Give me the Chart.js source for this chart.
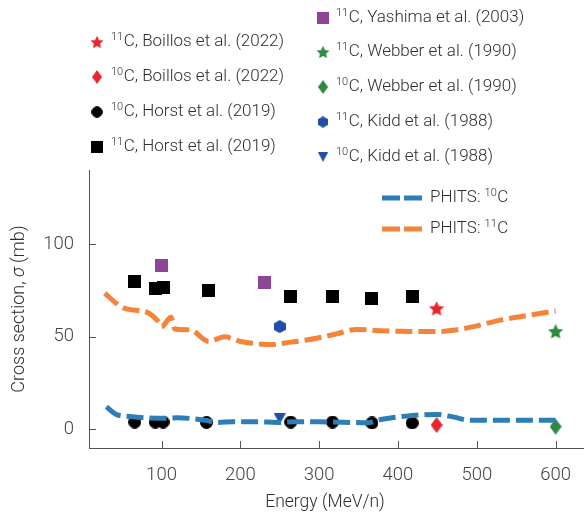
<!DOCTYPE html>
<html>
<head>
<meta charset="utf-8">
<script src="https://cdn.jsdelivr.net/npm/chart.js@4"></script>
<style>
  html, body { margin: 0; padding: 0; background: #ffffff; }
  #c { display: block; }
</style>
</head>
<body>
<canvas id="c" width="584" height="518"></canvas>
<script>
// ---- axis ticks ----
const xTicks = [100, 200, 300, 400, 500, 600];
const yTicks = [0, 50, 100];

// ---- measured cross sections (energy in MeV/n, sigma in mb) ----
const horst11C_E     = [66, 92, 102, 159, 264, 317, 367, 418];
const horst11C_sigma = [80, 76, 76.5, 75, 72, 71.7, 70.8, 72];
const horst10C_E     = [66, 92, 102, 157, 264, 317, 367, 418];
const horst10C_sigma = [4, 4, 4, 3.8, 4, 4, 3.5, 3.5];
const yashima11C_E     = [100, 231];
const yashima11C_sigma = [88.3, 79.5];
const kidd11C_E     = [250];
const kidd11C_sigma = [55.5];
const kidd10C_E     = [250];
const kidd10C_sigma = [5.8];
const boillos11C_E     = [449];
const boillos11C_sigma = [65.4];
const boillos10C_E     = [449];
const boillos10C_sigma = [2.4];
const webber11C_E     = [600];
const webber11C_sigma = [53];
const webber10C_E     = [600];
const webber10C_sigma = [1.5];

// ---- PHITS calculations ----
const phits11C_E     = [28, 43, 53, 72, 80, 96, 100, 112, 117, 136, 160, 180, 200, 220, 240, 262, 280, 300, 320, 348, 377, 400, 420, 449, 470, 496, 530, 572, 600];
const phits11C_sigma = [73.5, 68, 65.4, 64.1, 63.6, 58.2, 55.5, 60.5, 54.2, 53.8, 47.5, 50, 47.5, 46.3, 45.8, 47, 48, 49.5, 51.4, 54, 53.3, 53, 52.8, 52.8, 53.5, 55.5, 59, 62, 64];
const phits10C_E     = [30, 43, 60, 80, 100, 120, 140, 160, 172, 190, 220, 250, 270, 300, 330, 360, 380, 410, 449, 470, 490, 520, 560, 600];
const phits10C_sigma = [12.2, 8, 7, 6.3, 6, 6.3, 5.8, 4.6, 3.8, 4.2, 4.2, 3.8, 4.2, 4.1, 3.9, 3.6, 5.5, 7.2, 8.1, 6.8, 5, 5, 5, 5];

const FONT = "Roboto, 'Liberation Sans', Arial, sans-serif";
const WEIGHT = '300';
const TEXT = '#2e2e2e';
const AXIS = '#555555';

const toXY = (xs, ys) => xs.map((x, i) => ({ x: x, y: ys[i] }));

// ---- marker glyphs ----
function glyph(w, h, paint) {
  const cv = document.createElement('canvas');
  cv.width = w; cv.height = h;
  const g = cv.getContext('2d');
  paint(g, w, h);
  return cv;
}
function square(color, s) {
  return glyph(s, s, (g) => { g.fillStyle = color; g.fillRect(0, 0, s, s); });
}
function circle(color, d) {
  return glyph(d, d, (g) => { g.fillStyle = color; g.beginPath(); g.arc(d / 2, d / 2, d / 2, 0, Math.PI * 2); g.fill(); });
}
function star(color, d) {
  return glyph(d, d, (g) => {
    const R = d / 2, r = R * 0.48, cx = d / 2, cy = d / 2 + R * 0.1;
    g.fillStyle = color; g.beginPath();
    for (let i = 0; i < 10; i++) {
      const a = -Math.PI / 2 + i * Math.PI / 5;
      const rr = i % 2 ? r : R;
      g.lineTo(cx + rr * Math.cos(a), cy + rr * Math.sin(a));
    }
    g.closePath(); g.fill();
  });
}
function diamond(color, w, h) {
  return glyph(w, h, (g) => {
    g.fillStyle = color; g.beginPath();
    g.moveTo(w / 2, 0); g.lineTo(w, h / 2); g.lineTo(w / 2, h); g.lineTo(0, h / 2);
    g.closePath(); g.fill();
  });
}
function hexagon(color, w, h) {
  return glyph(w, h, (g) => {
    g.fillStyle = color; g.beginPath();
    g.moveTo(w / 2, 0); g.lineTo(w, h * 0.25); g.lineTo(w, h * 0.75);
    g.lineTo(w / 2, h); g.lineTo(0, h * 0.75); g.lineTo(0, h * 0.25);
    g.closePath(); g.fill();
  });
}
function triDown(color, w, h) {
  return glyph(w, h, (g) => {
    g.fillStyle = color; g.beginPath();
    g.moveTo(0, 0); g.lineTo(w, 0); g.lineTo(w / 2, h);
    g.closePath(); g.fill();
  });
}

const RED = '#e8262b', GREEN = '#2f8a40', PURPLE = '#8e4598', NAVY = '#1f4fa6';
const BLUE = '#2d7db6', ORANGE = '#f5843a';

const mk = {
  boillos11C: star(RED, 16),
  boillos10C: diamond(RED, 12, 16),
  horst10C: circle('#000000', 13),
  horst11C: square('#000000', 13),
  yashima11C: square(PURPLE, 13),
  webber11C: star(GREEN, 16),
  webber10C: diamond(GREEN, 12, 16),
  kidd11C: hexagon(NAVY, 12, 13),
  kidd10C: triDown(NAVY, 12, 11)
};

function scatter(label, key, xs, ys, col) {
  return {
    type: 'scatter', label: label, data: toXY(xs, ys),
    pointStyle: mk[key], pointRadius: 7, legendColumn: col,
    backgroundColor: '#000', borderWidth: 0
  };
}
function phits(label, xs, ys, color) {
  return {
    type: 'line', label: label, data: toXY(xs, ys),
    borderColor: color, borderWidth: 5, borderDash: [17, 6],
    pointRadius: 0, fill: false, cubicInterpolationMode: 'monotone',
    legendColumn: 2
  };
}

const datasets = [
  phits('PHITS: 10C', phits10C_E, phits10C_sigma, BLUE),
  phits('PHITS: 11C', phits11C_E, phits11C_sigma, ORANGE),
  scatter('11C, Boillos et al. (2022)', 'boillos11C', boillos11C_E, boillos11C_sigma, 0),
  scatter('10C, Boillos et al. (2022)', 'boillos10C', boillos10C_E, boillos10C_sigma, 0),
  scatter('10C, Horst et al. (2019)', 'horst10C', horst10C_E, horst10C_sigma, 0),
  scatter('11C, Horst et al. (2019)', 'horst11C', horst11C_E, horst11C_sigma, 0),
  scatter('11C, Yashima et al. (2003)', 'yashima11C', yashima11C_E, yashima11C_sigma, 1),
  scatter('11C, Webber et al. (1990)', 'webber11C', webber11C_E, webber11C_sigma, 1),
  scatter('10C, Webber et al. (1990)', 'webber10C', webber10C_E, webber10C_sigma, 1),
  scatter('11C, Kidd et al. (1988)', 'kidd11C', kidd11C_E, kidd11C_sigma, 1),
  scatter('10C, Kidd et al. (1988)', 'kidd10C', kidd10C_E, kidd10C_sigma, 1)
];

// Draws a label, raising mass numbers written just before the element symbol.
function drawIsotopeText(ctx, text, x, y, size) {
  const parts = text.split(/(\d+(?=C\b))/);
  let cx = x;
  ctx.textBaseline = 'middle';
  ctx.textAlign = 'left';
  parts.forEach((p, i) => {
    if (!p) return;
    const sup = i % 2 === 1;
    const fs = sup ? Math.round(size * 0.64) : size;
    ctx.font = `${WEIGHT} ${fs}px ${FONT}`;
    ctx.fillText(p, cx, sup ? y - size * 0.3 : y);
    cx += ctx.measureText(p).width + (sup ? 0.5 : 0);
  });
}

// Legend layout: two columns of markers above the axes, PHITS lines inside.
const legendLayout = [
  { markerX: 97, textX: 111, rows: [42, 77, 112, 147] },
  { markerX: 323, textX: 336, rows: [18, 52, 87, 122, 157] },
  { lineX0: 382, lineX1: 422, textX: 430, rows: [198, 229] }
];

const decor = {
  id: 'decor',
  afterDraw(chart) {
    const ctx = chart.ctx;
    const xs = chart.scales.x, ys = chart.scales.y;
    const area = chart.chartArea;
    ctx.save();
    // inward tick marks
    ctx.strokeStyle = AXIS; ctx.lineWidth = 1;
    xs.ticks.forEach(t => {
      const px = Math.round(xs.getPixelForValue(t.value)) + 0.5;
      ctx.beginPath(); ctx.moveTo(px, area.bottom); ctx.lineTo(px, area.bottom - 7); ctx.stroke();
    });
    ys.ticks.forEach(t => {
      const py = Math.round(ys.getPixelForValue(t.value)) + 0.5;
      ctx.beginPath(); ctx.moveTo(area.left, py); ctx.lineTo(area.left + 7, py); ctx.stroke();
    });
    // axis titles
    ctx.fillStyle = TEXT;
    ctx.font = `${WEIGHT} 17.5px ${FONT}`;
    ctx.textAlign = 'center'; ctx.textBaseline = 'middle';
    ctx.fillText('Energy (MeV/n)', 325, 503);
    ctx.save();
    ctx.translate(19, (area.top + area.bottom) / 2);
    ctx.rotate(-Math.PI / 2);
    const partsY = [['Cross section, ', 'normal'], ['σ', 'italic'], [' (mb)', 'normal']];
    let total = 0;
    partsY.forEach(p => { ctx.font = `${p[1]} ${WEIGHT} 18px ${FONT}`; total += ctx.measureText(p[0]).width; });
    let cx = -total / 2;
    ctx.textAlign = 'left';
    partsY.forEach(p => { ctx.font = `${p[1]} ${WEIGHT} 18px ${FONT}`; ctx.fillText(p[0], cx, 0); cx += ctx.measureText(p[0]).width; });
    ctx.restore();
    // legend
    const counters = [0, 0, 0];
    chart.data.datasets.forEach(ds => {
      const col = ds.legendColumn;
      const lay = legendLayout[col];
      const y = lay.rows[counters[col]++];
      if (col === 2) {
        ctx.save();
        ctx.strokeStyle = ds.borderColor; ctx.lineWidth = 5;
        ctx.setLineDash([18, 4]);
        ctx.beginPath(); ctx.moveTo(lay.lineX0, y); ctx.lineTo(lay.lineX1, y); ctx.stroke();
        ctx.restore();
      } else {
        const img = ds.pointStyle;
        const sw = img.width * 0.85, sh = img.height * 0.85;
        ctx.drawImage(img, lay.markerX - sw / 2, y - sh / 2, sw, sh);
      }
      ctx.fillStyle = TEXT;
      drawIsotopeText(ctx, ds.label, lay.textX, y, 17);
    });
    ctx.restore();
  }
};

new Chart(document.getElementById('c'), {
  data: { datasets: datasets },
  options: {
    responsive: false,
    animation: false,
    layout: { autoPadding: false, padding: { left: 0, right: 0, top: 170, bottom: 0 } },
    plugins: { legend: { display: false }, tooltip: { enabled: false } },
    scales: {
      x: {
        type: 'linear', min: 8, max: 636,
        grid: { display: false, drawTicks: false },
        border: { display: true, color: AXIS, width: 1 },
        ticks: { color: '#444444', font: { family: FONT, size: 18.5, weight: WEIGHT }, padding: 16 },
        afterBuildTicks: s => { s.ticks = xTicks.map(v => ({ value: v })); },
        afterFit: s => { s.height = 70; s.paddingLeft = 0; s.paddingRight = 0; }
      },
      y: {
        type: 'linear', min: -10, max: 140,
        grid: { display: false, drawTicks: false },
        border: { display: true, color: AXIS, width: 1 },
        ticks: { color: '#444444', font: { family: FONT, size: 18.5, weight: WEIGHT }, padding: 15 },
        afterBuildTicks: s => { s.ticks = yTicks.map(v => ({ value: v })); },
        afterFit: s => { s.width = 89; s.paddingTop = 0; s.paddingBottom = 0; }
      }
    }
  },
  plugins: [decor]
});
</script>
</body>
</html>
